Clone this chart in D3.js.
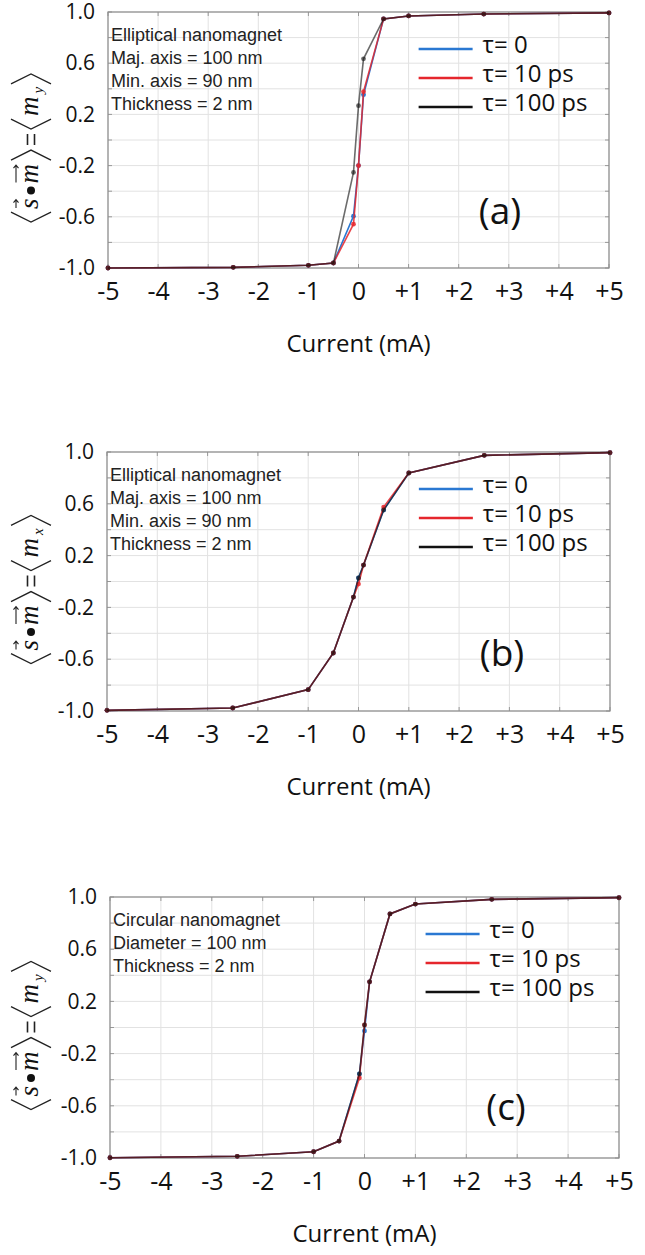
<!DOCTYPE html>
<html>
<head>
<meta charset="utf-8">
<script src="https://cdn.jsdelivr.net/npm/d3@7"></script>
<style>
  body { margin: 0; background: #fff; }
  svg { display: block; }
</style>
</head>
<body>
<script>
// currents (mA) where the curves were sampled
const currents = [-5, -2.5, -1, -0.5, -0.1, 0, 0.1, 0.5, 1, 2.5, 5];

// (a) elliptical, <m_y>
const aTau0 = [-1.0, -0.995, -0.979, -0.961, -0.595, -0.2, 0.354, 0.946, 0.969, 0.984, 0.993];
const aTau10 = [-1.0, -0.995, -0.979, -0.961, -0.658, -0.2, 0.377, 0.946, 0.969, 0.984, 0.993];
const aTau100 = [-1.0, -0.995, -0.979, -0.961, -0.253, 0.268, 0.634, 0.946, 0.969, 0.984, 0.993];

// (b) elliptical, <m_x>
const bTau0 = [-0.995, -0.977, -0.835, -0.552, -0.12, 0.027, 0.127, 0.552, 0.838, 0.974, 0.995];
const bTau10 = [-0.995, -0.977, -0.835, -0.552, -0.12, -0.02, 0.127, 0.575, 0.838, 0.974, 0.995];
const bTau100 = [-0.995, -0.977, -0.835, -0.552, -0.12, 0.027, 0.127, 0.552, 0.838, 0.974, 0.995];

// (c) circular, <m_y>
const cTau0 = [-0.998, -0.987, -0.952, -0.87, -0.356, -0.027, 0.35, 0.87, 0.946, 0.982, 0.995];
const cTau10 = [-0.998, -0.987, -0.952, -0.87, -0.387, 0.019, 0.35, 0.87, 0.946, 0.982, 0.995];
const cTau100 = [-0.998, -0.987, -0.952, -0.87, -0.356, 0.019, 0.35, 0.87, 0.946, 0.982, 0.995];

const xTicks = [-5, -4, -3, -2, -1, 0, 1, 2, 3, 4, 5];
const yTicks = [-1.0, -0.6, -0.2, 0.2, 0.6, 1.0];
const yGrid = [-1.0, -0.8, -0.6, -0.4, -0.2, 0, 0.2, 0.4, 0.6, 0.8, 1.0];

const legendLabels = ["\u03c4= 0", "\u03c4= 10 ps", "\u03c4= 100 ps"];
const seriesColors = ["#2a78d2", "#e5262c", "#111111"];
const seriesOpacity = [1, 0.85, 0.62];

const notesA = ["Elliptical nanomagnet", "Maj. axis = 100 nm", "Min. axis = 90 nm", "Thickness = 2 nm"];
const notesB = ["Elliptical nanomagnet", "Maj. axis = 100 nm", "Min. axis = 90 nm", "Thickness = 2 nm"];
const notesC = ["Circular nanomagnet", "Diameter = 100 nm", "Thickness = 2 nm"];

const w = 645;
const h = 1255;

const svg = d3.select("body").append("svg").attr("width", w).attr("height", h);

//panel layout
const panels = [
  { series: [aTau0, aTau10, aTau100], notes: notesA, tag: "(a)", sub: "y",
    left: 108, right: 609, top: 12, bottom: 268, tagX: 500, tagY: 211 },
  { series: [bTau0, bTau10, bTau100], notes: notesB, tag: "(b)", sub: "x",
    left: 107, right: 610, top: 452, bottom: 711, tagX: 502, tagY: 653 },
  { series: [cTau0, cTau10, cTau100], notes: notesC, tag: "(c)", sub: "y",
    left: 110, right: 619, top: 897, bottom: 1158, tagX: 506, tagY: 1107 },
];

const sansFont = "'Open Sans', sans-serif";

const drawYLabel = (cx, cy, sub) => {
  const outer = svg.append("g").attr("transform", `translate(${cx},${cy}) rotate(-90)`);
  const g = outer.append("g");
  const pieces = [
    { k: "br", side: "l" },
    { k: "t", t: "s", vec: true },
    { k: "dot" },
    { k: "t", t: "m", vec: true },
    { k: "br", side: "r" },
    { k: "eq" },
    { k: "br", side: "l" },
    { k: "t", t: "m" },
    { k: "sub", t: sub },
    { k: "br", side: "r" },
  ];
  let x = 0;
  pieces.forEach((p) => {
    if (p.k === "br") {
      const d = p.side === "l"
        ? `M${x + 11},-20 L${x + 1},0 L${x + 11},20`
        : `M${x + 1},-20 L${x + 11},0 L${x + 1},20`;
      g.append("path").attr("d", d).attr("fill", "none").attr("stroke", "#222").attr("stroke-width", 1.3);
      x += 14;
    } else if (p.k === "dot") {
      g.append("circle").attr("cx", x + 5).attr("cy", 0).attr("r", 4).attr("fill", "#111");
      x += 12;
    } else if (p.k === "eq") {
      g.append("path").attr("d", `M${x + 2},-3.5 H${x + 13} M${x + 2},3.5 H${x + 13}`)
        .attr("stroke", "#222").attr("stroke-width", 1.6);
      x += 17;
    } else {
      const isSub = p.k === "sub";
      const t = g.append("text")
        .attr("x", x)
        .attr("y", isSub ? 12 : 7)
        .attr("font-family", "'Liberation Serif', 'DejaVu Serif', serif")
        .attr("font-style", "italic")
        .attr("font-size", isSub ? 15 : 27)
        .attr("fill", "#111")
        .text(p.t);
      const tw = t.node().getComputedTextLength();
      if (p.vec) {
        const y0 = -15;
        const x1 = x + 1;
        const x2 = x + tw - 1;
        g.append("path")
          .attr("d", `M${x1},${y0} H${x2} M${x2 - 3},${y0 - 2.5} L${x2},${y0} L${x2 - 3},${y0 + 2.5}`)
          .attr("fill", "none").attr("stroke", "#222").attr("stroke-width", 1.1);
      }
      x += tw + (isSub ? 2 : 3);
    }
  });
  g.attr("transform", `translate(${-x / 2},0)`);
};

const drawPanel = (p) => {
  const xScale = d3.scaleLinear().domain([-5, 5]).range([p.left, p.right]);
  const yScale = d3.scaleLinear().domain([-1, 1]).range([p.bottom, p.top]);
  const g = svg.append("g");

  //grid
  g.selectAll(".vgrid").data(xTicks).enter().append("line")
    .attr("x1", (d) => xScale(d)).attr("x2", (d) => xScale(d))
    .attr("y1", p.top).attr("y2", p.bottom)
    .attr("stroke", "#e2e2e2").attr("stroke-width", 1);
  g.selectAll(".hgrid").data(yGrid).enter().append("line")
    .attr("y1", (d) => yScale(d)).attr("y2", (d) => yScale(d))
    .attr("x1", p.left).attr("x2", p.right)
    .attr("stroke", "#e2e2e2").attr("stroke-width", 1);

  //small inward ticks
  g.selectAll(".tb").data(xTicks).enter().append("path")
    .attr("d", (d) => `M${xScale(d)},${p.bottom} v-4 M${xScale(d)},${p.top} v4`)
    .attr("stroke", "#999").attr("stroke-width", 1);
  g.selectAll(".tl").data(yGrid).enter().append("path")
    .attr("d", (d) => `M${p.left},${yScale(d)} h4 M${p.right},${yScale(d)} h-4`)
    .attr("stroke", "#999").attr("stroke-width", 1);

  //frame
  g.append("rect")
    .attr("x", p.left).attr("y", p.top)
    .attr("width", p.right - p.left).attr("height", p.bottom - p.top)
    .attr("fill", "none").attr("stroke", "#8c8c8c").attr("stroke-width", 1.2);

  //axes labels
  const xAxis = d3.axisBottom(xScale).tickValues(xTicks).tickSize(0).tickPadding(14)
    .tickFormat((d) => (d > 0 ? "+" + d : String(d)));
  const xa = g.append("g").attr("transform", `translate(0,${p.bottom})`).call(xAxis);
  xa.select(".domain").remove();
  xa.selectAll("text").attr("font-family", sansFont).attr("font-size", 25).attr("fill", "#111");

  const yAxis = d3.axisLeft(yScale).tickValues(yTicks).tickSize(0).tickPadding(13)
    .tickFormat((d) => d.toFixed(1));
  const ya = g.append("g").attr("transform", `translate(${p.left},0)`).call(yAxis);
  ya.select(".domain").remove();
  ya.selectAll("text").attr("font-family", sansFont).attr("font-size", 21).attr("fill", "#111");

  g.append("text")
    .attr("x", (p.left + p.right) / 2)
    .attr("y", p.bottom + 84)
    .attr("text-anchor", "middle")
    .attr("font-family", sansFont)
    .attr("font-size", 24)
    .attr("fill", "#111")
    .text("Current (mA)");

  drawYLabel(31, (p.top + p.bottom) / 2 + 7, p.sub);

  //curves
  const line = d3.line().x((d) => xScale(d[0])).y((d) => yScale(d[1]));
  p.series.forEach((vals, i) => {
    const pts = currents.map((c, j) => [c, vals[j]]);
    g.append("path")
      .attr("d", line(pts))
      .attr("fill", "none")
      .attr("stroke", seriesColors[i])
      .attr("stroke-opacity", seriesOpacity[i])
      .attr("stroke-width", 1.6);
    g.selectAll(".dot" + i).data(pts).enter().append("circle")
      .attr("cx", (d) => xScale(d[0]))
      .attr("cy", (d) => yScale(d[1]))
      .attr("r", 2.4)
      .attr("fill", seriesColors[i])
      .attr("fill-opacity", seriesOpacity[i]);
  });

  //notes
  g.selectAll(".note").data(p.notes).enter().append("text")
    .attr("x", p.left + 3)
    .attr("y", (d, i) => p.top + 29 + i * 23)
    .attr("font-family", "'Liberation Sans', Arial, sans-serif")
    .attr("font-size", 18)
    .attr("fill", "#222")
    .text((d) => d);

  //legend
  const lx = xScale(-5) + (p.right - p.left) * 0.62;
  const leg = g.selectAll(".leg").data(legendLabels).enter().append("g")
    .attr("transform", (d, i) => `translate(${lx},${p.top + 37 + i * 29})`);
  leg.append("line")
    .attr("x1", 0).attr("x2", 54)
    .attr("stroke", (d, i) => seriesColors[i])
    .attr("stroke-width", 2.6);
  leg.append("text")
    .attr("x", 64)
    .attr("y", 4)
    .attr("font-family", sansFont)
    .attr("font-size", 24)
    .attr("fill", "#111")
    .text((d) => d);

  //panel tag
  g.append("text")
    .attr("x", p.tagX)
    .attr("y", p.tagY + 13)
    .attr("text-anchor", "middle")
    .attr("font-family", sansFont)
    .attr("font-size", 37)
    .attr("fill", "#111")
    .text(p.tag);
};

panels.forEach(drawPanel);
</script>
</body>
</html>
